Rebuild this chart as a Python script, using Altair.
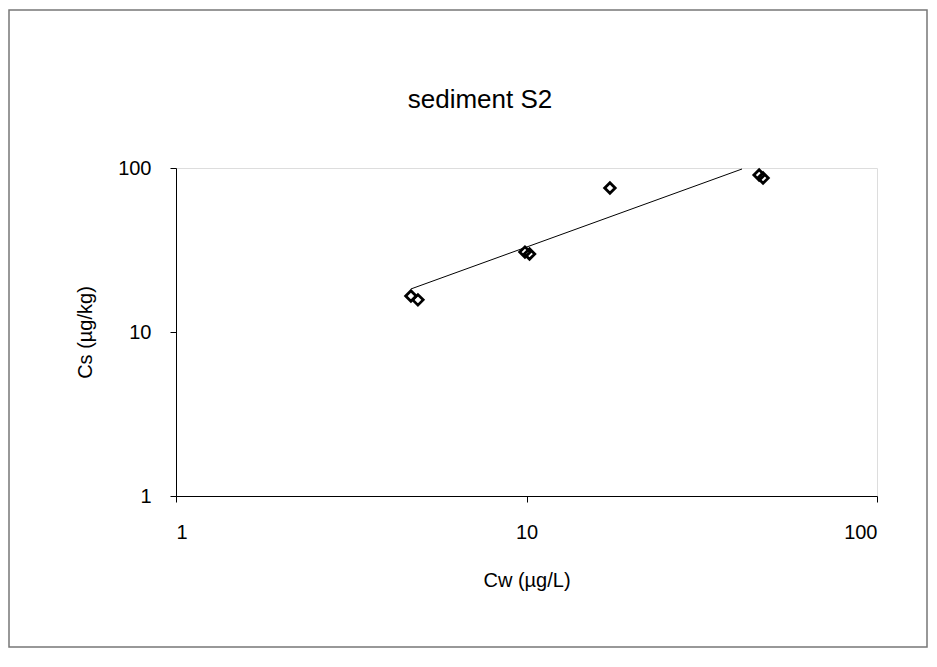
import altair as alt
import pandas as pd

# data
cw = [4.68, 4.90, 9.9, 10.2, 17.3, 46.1, 47.3]
cs = [16.6, 15.7, 30.7, 29.9, 75.5, 90.6, 86.9]
fit_cw = [4.68, 41.2]
fit_cs = [18.3, 98.6]
ticks = [1, 10, 100]
title_text = ["sediment S2"]

pts = pd.DataFrame({"Cw": cw, "Cs": cs})
fit = pd.DataFrame({"Cw": fit_cw, "Cs": fit_cs})

FONT = "Liberation Sans"
W, H = 701, 328

xscale = alt.Scale(type="log", domain=[1, 100])
yscale = alt.Scale(type="log", domain=[1, 100])

xaxis = alt.Axis(values=ticks, format="d", grid=False, title="Cw (µg/L)",
                 labelFont=FONT, labelFontSize=20, labelColor="black",
                 labelPadding=20, tickSize=6, tickColor="black",
                 domainColor="black", titleFont=FONT, titleFontSize=20,
                 titleFontWeight="normal", titleColor="black", titlePadding=28)
yaxis = alt.Axis(values=ticks, format="d", grid=False, title="Cs (µg/kg)",
                 labelFont=FONT, labelFontSize=20, labelColor="black",
                 labelPadding=19, tickSize=6, tickColor="black",
                 domainColor="black", titleFont=FONT, titleFontSize=20,
                 titleFontWeight="normal", titleColor="black", titlePadding=22)

border = alt.Chart(pd.DataFrame({"a": [0]})).mark_rect(
    fill=None, stroke="#777777", strokeWidth=1.5
).encode(x=alt.value(-167), x2=alt.value(751), y=alt.value(-158), y2=alt.value(479))

title = alt.Chart(pd.DataFrame({"t": title_text})).mark_text(
    font=FONT, fontSize=26, color="black", align="center", baseline="middle"
).encode(text="t:N", x=alt.value(304), y=alt.value(-68))

line = alt.Chart(fit).mark_line(color="black", strokeWidth=1).encode(
    x=alt.X("Cw:Q", scale=xscale, axis=xaxis),
    y=alt.Y("Cs:Q", scale=yscale, axis=yaxis),
)
points = alt.Chart(pts).mark_point(
    shape="diamond", filled=False, color="black", strokeWidth=2.8, size=110, opacity=1
).encode(
    x=alt.X("Cw:Q", scale=xscale),
    y=alt.Y("Cs:Q", scale=yscale),
)

chart = alt.layer(border, title, line, points).properties(
    width=W, height=H,
    autosize=alt.AutoSizeParams(type="none"),
    padding={"left": 168, "top": 160, "right": 52, "bottom": 155},
).configure_view(strokeWidth=0, stroke="transparent").configure(background="white")

chart.save("out.html", embed_options={"renderer": "svg", "actions": False})
